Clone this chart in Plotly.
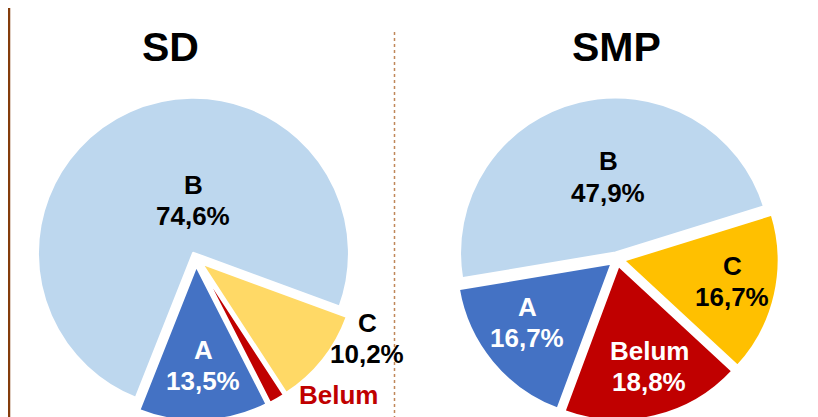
import plotly.graph_objects as go

# ---- data ----
categories = ["A", "B", "C", "Belum"]
sd_values = [13.5, 74.6, 10.2, 1.7]
smp_values = [16.7, 47.9, 16.7, 18.8]
titles = ["SD", "SMP"]

sd_colors = ["#4472C4", "#BDD7EE", "#FFD966", "#C00000"]
smp_colors = ["#4472C4", "#BDD7EE", "#FFC000", "#C00000"]

W, H = 818, 417
OFF = 8  # page body margin
FONT = "Liberation Sans, Arial, sans-serif"


def fmt(v):
    return f"{v:.1f}".replace(".", ",") + "%"


def px_x(x):
    return (x - OFF) / W


def px_y(y):
    return 1 - (y - OFF) / H


PULL = 0.04
R_IN = 156
R_OUT = R_IN * (1 + PULL)
CY = 259  # screen pixel centre


def dom_y(cy):
    return [px_y(cy + R_OUT), px_y(cy - R_OUT)]


fig = go.Figure()
fig.add_trace(go.Pie(
    labels=categories, values=sd_values, sort=False, direction="clockwise",
    rotation=153, pull=PULL, textinfo="none", hoverinfo="label+percent",
    marker=dict(colors=sd_colors, line=dict(color="white", width=3)),
    domain=dict(x=[px_x(196 - R_OUT), px_x(196 + R_OUT)], y=dom_y(CY)),
    showlegend=False,
))
fig.add_trace(go.Pie(
    labels=categories, values=smp_values, sort=False, direction="clockwise",
    rotation=200.4, pull=PULL, textinfo="none", hoverinfo="label+percent",
    marker=dict(colors=smp_colors, line=dict(color="white", width=3)),
    domain=dict(x=[px_x(617 - R_OUT), px_x(617 + R_OUT)], y=dom_y(CY)),
    showlegend=False,
))

annotations = []
# titles
for t, cx in zip(titles, [170, 616]):
    annotations.append(dict(text=f"<b>{t}</b>", x=px_x(cx), y=px_y(47), xref="paper", yref="paper",
                            showarrow=False, font=dict(family=FONT, size=41, color="black"),
                            xanchor="center", yanchor="middle"))

# label positions (pixel centres) and colours per slice
sd_pos = [(203, 365), (193, 200), (367, 338), (338, 410)]
sd_txt = ["white", "black", "black", "#C00000"]
smp_pos = [(527, 322), (608, 177), (732, 281), (649, 366)]
smp_txt = ["white", "black", "black", "white"]

for vals, pos, cols in [(sd_values, sd_pos, sd_txt), (smp_values, smp_pos, smp_txt)]:
    for lab, v, (x, y), c in zip(categories, vals, pos, cols):
        for line, dy in [(lab, -15.5), (fmt(v), 15.5)]:
            annotations.append(dict(text=f"<b>{line}</b>", x=px_x(x), y=px_y(y + dy),
                                    xref="paper", yref="paper", showarrow=False,
                                    font=dict(family=FONT, size=26, color=c),
                                    xanchor="center", yanchor="middle"))

shapes = [
    dict(type="line", xref="paper", yref="paper", x0=px_x(9), x1=px_x(9), y0=0, y1=1.1,
         line=dict(color="#843C0C", width=2.5)),
    dict(type="line", xref="paper", yref="paper", x0=px_x(394.5), x1=px_x(394.5), y0=0, y1=px_y(29),
         line=dict(color="#C0875A", width=1.5, dash="3px,3px")),
]

fig.update_layout(
    width=W, height=H, margin=dict(l=0, r=0, t=0, b=0),
    paper_bgcolor="white", plot_bgcolor="white",
    annotations=annotations, shapes=shapes,
)

fig.write_html("out.html")
